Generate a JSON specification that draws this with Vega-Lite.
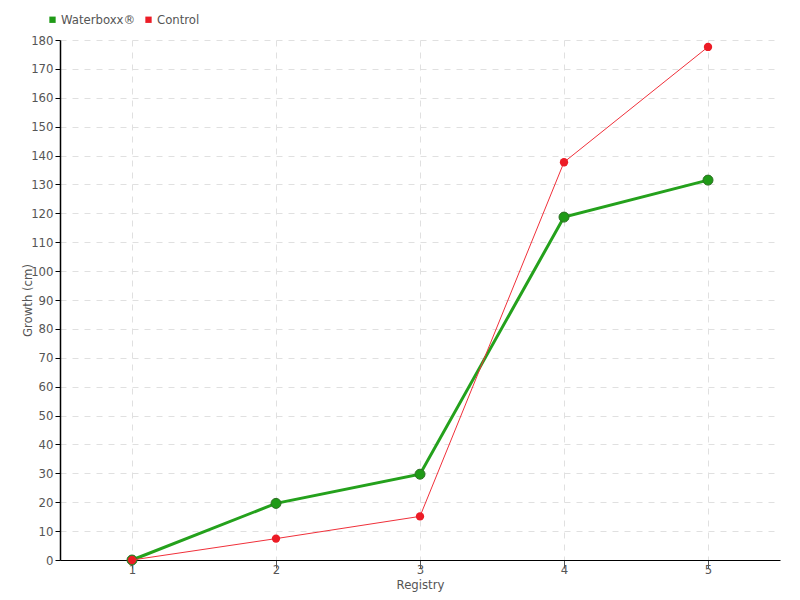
{
  "$schema": "https://vega.github.io/schema/vega-lite/v6.json",
  "width": 720,
  "height": 520,
  "autosize": {"type": "none"},
  "padding": {"left": 60, "top": 40, "right": 20, "bottom": 40},
  "background": "white",
  "config": {
    "view": {"stroke": null},
    "font": "'DejaVu Sans Condensed', Roboto, sans-serif",
    "axis": {
      "labelFont": "'DejaVu Sans Condensed', Roboto, sans-serif",
      "titleFont": "'DejaVu Sans Condensed', Roboto, sans-serif",
      "labelColor": "#555555",
      "titleColor": "#555555",
      "labelFontSize": 13,
      "titleFontSize": 13,
      "titleFontWeight": "normal",
      "gridColor": "#e0e0e0",
      "gridDash": [6, 6],
      "domainColor": "#000000"
    }
  },
  "data": {
    "values": [
      {"registry": "1", "series": "Waterboxx®", "growth": 0},
      {"registry": "2", "series": "Waterboxx®", "growth": 19.6},
      {"registry": "3", "series": "Waterboxx®", "growth": 29.7},
      {"registry": "4", "series": "Waterboxx®", "growth": 118.7},
      {"registry": "5", "series": "Waterboxx®", "growth": 131.5},
      {"registry": "1", "series": "Control", "growth": 0},
      {"registry": "2", "series": "Control", "growth": 7.4},
      {"registry": "3", "series": "Control", "growth": 15.1},
      {"registry": "4", "series": "Control", "growth": 137.7},
      {"registry": "5", "series": "Control", "growth": 177.6}
    ]
  },
  "encoding": {
    "x": {
      "field": "registry",
      "type": "ordinal",
      "scale": {"type": "point", "padding": 0.5},
      "axis": {
        "title": "Registry",
        "labelAngle": 0,
        "grid": true,
        "tickColor": "#555555",
        "tickSize": 8,
        "labelPadding": -5,
        "titlePadding": 2,
        "domainWidth": 1.2
      }
    },
    "y": {
      "field": "growth",
      "type": "quantitative",
      "scale": {"domain": [0, 180], "nice": false, "zero": true},
      "axis": {
        "title": "Growth (cm)",
        "values": [0, 10, 20, 30, 40, 50, 60, 70, 80, 90, 100, 110, 120, 130, 140, 150, 160, 170, 180],
        "tickColor": "#000000",
        "tickSize": 5,
        "labelPadding": 2,
        "titleX": -26,
        "domainWidth": 1.5
      }
    }
  },
  "layer": [
    {
      "transform": [{"filter": "datum.series === 'Waterboxx®'"}],
      "mark": {"type": "line", "color": "#24a11c", "strokeWidth": 3}
    },
    {
      "transform": [{"filter": "datum.series === 'Waterboxx®'"}],
      "mark": {"type": "circle", "size": 100, "opacity": 1, "stroke": "#2e7025", "strokeWidth": 1},
      "encoding": {
        "color": {
          "field": "series",
          "type": "nominal",
          "scale": {"domain": ["Waterboxx®", "Control"], "range": ["#1f9a17", "#ec1c26"]},
          "legend": {
            "title": null,
            "orient": "none",
            "legendX": -14,
            "legendY": -27,
            "direction": "horizontal",
            "symbolType": "square",
            "symbolSize": 40,
            "symbolStrokeWidth": 0,
            "labelFont": "'DejaVu Sans Condensed', Roboto, sans-serif",
            "labelFontSize": 13,
            "labelColor": "#555555",
            "labelOffset": 2,
            "columnPadding": 6
          }
        }
      }
    },
    {
      "transform": [{"filter": "datum.series === 'Control'"}],
      "mark": {"type": "line", "color": "#f0303a", "strokeWidth": 1}
    },
    {
      "transform": [{"filter": "datum.series === 'Control'"}],
      "mark": {"type": "circle", "size": 70, "opacity": 1},
      "encoding": {
        "color": {"field": "series", "type": "nominal"}
      }
    }
  ]
}
